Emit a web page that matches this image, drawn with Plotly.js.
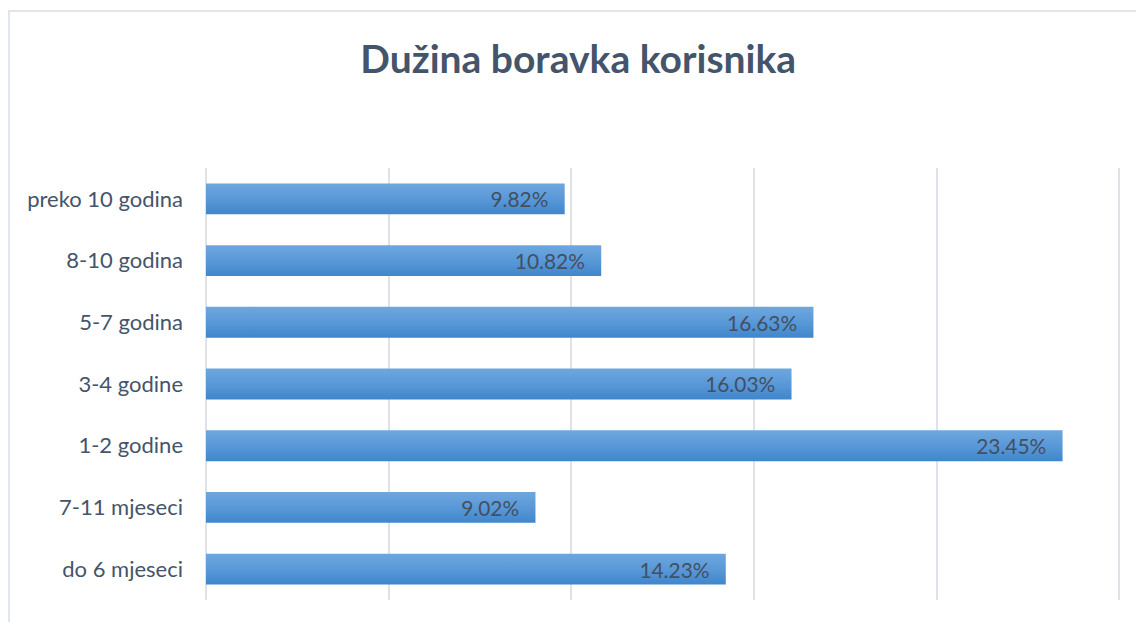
<!DOCTYPE html>
<html>
<head>
<meta charset="utf-8">
<script src="https://cdn.plot.ly/plotly-3.0.1.min.js"></script>
<style>
  html, body { margin: 0; padding: 0; background: #fff; }
  #wrap { position: relative; width: 1136px; height: 622px; }
  #chart { width: 1136px; height: 622px; }
  #frame { position: absolute; left: 8px; top: 10px; width: 1140px; height: 620px;
           border-left: 2px solid #e1e5ec; border-top: 2px solid #e1e5ec; pointer-events: none; }
</style>
</head>
<body>
<div id="wrap">
  <div id="chart"></div>
  <div id="frame"></div>
</div>
<script>
const categories = ["do 6 mjeseci", "7-11 mjeseci", "1-2 godine", "3-4 godine", "5-7 godina", "8-10 godina", "preko 10 godina"];
const values = [14.23, 9.02, 23.45, 16.03, 16.63, 10.82, 9.82];
const chartTitle = "Dužina boravka korisnika";

const trace = {
  type: "bar",
  orientation: "h",
  y: categories,
  x: values,
  marker: { color: "#5696d6", line: { width: 0 } },
  texttemplate: "%{x:.2f}%\u00a0\u00a0\u2009",
  textposition: "inside",
  insidetextanchor: "end",
  textfont: { family: "Lato, 'Noto Sans', sans-serif", size: 21, color: "#434f62" },
  hoverinfo: "none",
  cliponaxis: false
};

const layout = {
  width: 1136,
  height: 622,
  margin: { l: 206, r: 15, t: 168, b: 22 },
  paper_bgcolor: "#ffffff",
  plot_bgcolor: "#ffffff",
  showlegend: false,
  bargap: 0.5,
  title: {
    text: "<b>" + chartTitle + "</b>",
    font: { family: "Lato, 'Noto Sans', sans-serif", size: 39, color: "#44546a" },
    xref: "container", x: 0.509, xanchor: "center",
    yref: "container", y: 1 - 59 / 622, yanchor: "middle"
  },
  xaxis: {
    range: [0, 25.05],
    tick0: 0,
    dtick: 5,
    showgrid: true,
    gridcolor: "#dfe2e8",
    gridwidth: 2,
    zeroline: true,
    zerolinecolor: "#dfe2e8",
    zerolinewidth: 2,
    showticklabels: false,
    showline: false,
    fixedrange: true
  },
  yaxis: {
    type: "category",
    showgrid: false,
    zeroline: false,
    showline: false,
    ticks: "",
    ticklabelstandoff: 22,
    tickfont: { family: "Lato, 'Noto Sans', sans-serif", size: 22, color: "#44546a" },
    fixedrange: true
  },
  font: { family: "Lato, 'Noto Sans', sans-serif" }
};

Plotly.newPlot("chart", [trace], layout, { displayModeBar: false, staticPlot: true }).then(function (gd) {
  const svg = gd.querySelector("svg.main-svg");
  const ns = "http://www.w3.org/2000/svg";
  let defs = svg.querySelector("defs");
  if (!defs) { defs = document.createElementNS(ns, "defs"); svg.insertBefore(defs, svg.firstChild); }
  const grad = document.createElementNS(ns, "linearGradient");
  grad.setAttribute("id", "barGrad");
  grad.setAttribute("x1", "0"); grad.setAttribute("y1", "0");
  grad.setAttribute("x2", "0"); grad.setAttribute("y2", "1");
  [["0%", "#6ea7de"], ["55%", "#5797d7"], ["100%", "#3f86cb"]].forEach(function (s) {
    const stop = document.createElementNS(ns, "stop");
    stop.setAttribute("offset", s[0]);
    stop.setAttribute("stop-color", s[1]);
    grad.appendChild(stop);
  });
  defs.appendChild(grad);
  gd.querySelectorAll(".barlayer .point path").forEach(function (p) {
    p.style.fill = "url(#barGrad)";
  });
});
</script>
</body>
</html>
